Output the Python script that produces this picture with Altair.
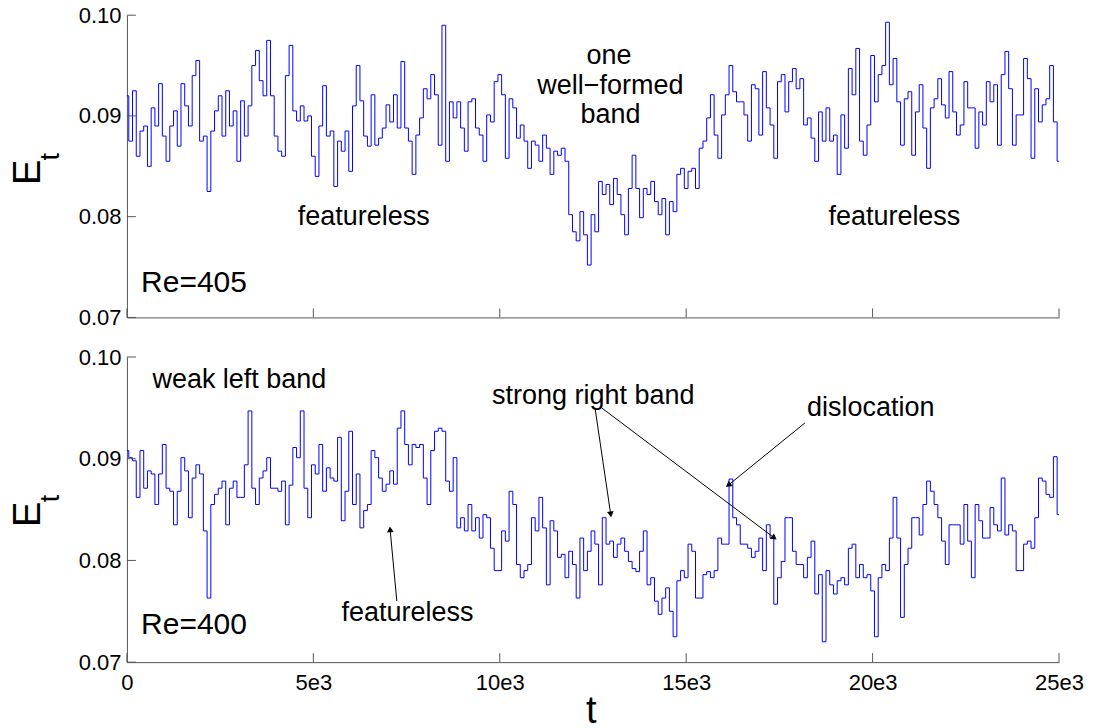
import math
import altair as alt
import pandas as pd

# ---------------- data ----------------
T_STEP = 100  # sampling interval of the traces in t

E405 = [
    0.0920, 0.0875, 0.0925, 0.0860, 0.0885, 0.0890, 0.0850, 0.0908, 0.0890, 0.0932,
    0.0880, 0.0855, 0.0890, 0.0905, 0.0870, 0.0932, 0.0910, 0.0890, 0.0940, 0.0955,
    0.0875, 0.0880, 0.0825, 0.0885, 0.0905, 0.0920, 0.0880, 0.0925, 0.0890, 0.0905,
    0.0855, 0.0915, 0.0880, 0.0910, 0.0950, 0.0965, 0.0935, 0.0920, 0.0975, 0.0920,
    0.0880, 0.0865, 0.0860, 0.0940, 0.0970, 0.0905, 0.0895, 0.0910, 0.0895, 0.0900,
    0.0860, 0.0840, 0.0890, 0.0930, 0.0880, 0.0885, 0.0830, 0.0875, 0.0865, 0.0885,
    0.0845, 0.0910, 0.0950, 0.0915, 0.0880, 0.0870, 0.0921, 0.0871, 0.0878, 0.0888,
    0.0911, 0.0894, 0.0921, 0.0888, 0.0954, 0.0888, 0.0875, 0.0842, 0.0881, 0.0898,
    0.0927, 0.0917, 0.0941, 0.0921, 0.0871, 0.0990, 0.0855, 0.0914, 0.0898, 0.0914,
    0.0888, 0.0865, 0.0914, 0.0917, 0.0888, 0.0881, 0.0855, 0.0901, 0.0894, 0.0934,
    0.0941, 0.0921, 0.0858, 0.0917, 0.0908, 0.0878, 0.0891, 0.0875, 0.0848, 0.0875,
    0.0871, 0.0855, 0.0881, 0.0868, 0.0842, 0.0865, 0.0861, 0.0868, 0.0855, 0.0802,
    0.0785, 0.0776, 0.0805, 0.0782, 0.0752, 0.0802, 0.0785, 0.0835, 0.0822, 0.0832,
    0.0812, 0.0838, 0.0822, 0.0802, 0.0782, 0.0828, 0.0861, 0.0828, 0.0799, 0.0828,
    0.0822, 0.0835, 0.0815, 0.0802, 0.0818, 0.0782, 0.0815, 0.0805, 0.0842, 0.0848,
    0.0828, 0.0845, 0.0848, 0.0828, 0.0868, 0.0875, 0.0898, 0.0921, 0.0881, 0.0858,
    0.0901, 0.0921, 0.0950, 0.0924, 0.0914, 0.0914, 0.0901, 0.0875, 0.0931, 0.0927,
    0.0881, 0.0944, 0.0908, 0.0891, 0.0858, 0.0934, 0.0941, 0.0904, 0.0934, 0.0947,
    0.0927, 0.0937, 0.0891, 0.0898, 0.0878, 0.0855, 0.0904, 0.0875, 0.0908, 0.0875,
    0.0881, 0.0842, 0.0901, 0.0868, 0.0947, 0.0921, 0.0967, 0.0875, 0.0861, 0.0891,
    0.0960, 0.0914, 0.0941, 0.0950, 0.0993, 0.0931, 0.0957, 0.0914, 0.0871, 0.0917,
    0.0924, 0.0861, 0.0904, 0.0931, 0.0888, 0.0848, 0.0908, 0.0917, 0.0937, 0.0911,
    0.0898, 0.0944, 0.0904, 0.0881, 0.0891, 0.0934, 0.0908, 0.0908, 0.0868, 0.0904,
    0.0891, 0.0934, 0.0914, 0.0931, 0.0871, 0.0941, 0.0964, 0.0927, 0.0871, 0.0901,
    0.0901, 0.0957, 0.0937, 0.0858, 0.0927, 0.0894, 0.0911, 0.0917, 0.0950, 0.0894,
    0.0855,
]

E400 = [
    0.0908, 0.0901, 0.0898, 0.0862, 0.0908, 0.0871, 0.0888, 0.0885, 0.0855, 0.0885,
    0.0914, 0.0871, 0.0868, 0.0835, 0.0868, 0.0901, 0.0888, 0.0842, 0.0881, 0.0894,
    0.0885, 0.0829, 0.0763, 0.0855, 0.0865, 0.0871, 0.0878, 0.0835, 0.0871, 0.0878,
    0.0862, 0.0862, 0.0894, 0.0947, 0.0871, 0.0855, 0.0881, 0.0888, 0.0901, 0.0871,
    0.0871, 0.0868, 0.0878, 0.0835, 0.0874, 0.0911, 0.0901, 0.0947, 0.0871, 0.0842,
    0.0894, 0.0885, 0.0914, 0.0868, 0.0891, 0.0881, 0.0878, 0.0921, 0.0839, 0.0868,
    0.0927, 0.0855, 0.0885, 0.0832, 0.0849, 0.0855, 0.0908, 0.0901, 0.0881, 0.0868,
    0.0875, 0.0888, 0.0875, 0.0930, 0.0947, 0.0914, 0.0894, 0.0914, 0.0911, 0.0914,
    0.0881, 0.0855, 0.0908, 0.0927, 0.0930, 0.0927, 0.0878, 0.0868, 0.0901, 0.0832,
    0.0842, 0.0829, 0.0855, 0.0829, 0.0842, 0.0822, 0.0845, 0.0842, 0.0812, 0.0790,
    0.0790, 0.0829, 0.0819, 0.0868, 0.0855, 0.0796, 0.0783, 0.0790, 0.0796, 0.0842,
    0.0829, 0.0862, 0.0832, 0.0776, 0.0839, 0.0829, 0.0803, 0.0806, 0.0783, 0.0809,
    0.0796, 0.0763, 0.0822, 0.0790, 0.0809, 0.0829, 0.0816, 0.0776, 0.0842, 0.0816,
    0.0819, 0.0803, 0.0816, 0.0822, 0.0809, 0.0799, 0.0792, 0.0789, 0.0809, 0.0829,
    0.0776, 0.0783, 0.0760, 0.0747, 0.0763, 0.0773, 0.0750, 0.0725, 0.0780, 0.0790,
    0.0783, 0.0816, 0.0809, 0.0763, 0.0763, 0.0786, 0.0789, 0.0783, 0.0790, 0.0822,
    0.0816, 0.0816, 0.0880, 0.0842, 0.0835, 0.0816, 0.0816, 0.0812, 0.0803, 0.0809,
    0.0822, 0.0790, 0.0835, 0.0822, 0.0757, 0.0783, 0.0799, 0.0842, 0.0842, 0.0809,
    0.0796, 0.0796, 0.0783, 0.0803, 0.0819, 0.0767, 0.0786, 0.0720, 0.0790, 0.0776,
    0.0767, 0.0780, 0.0783, 0.0776, 0.0812, 0.0816, 0.0783, 0.0796, 0.0783, 0.0786,
    0.0770, 0.0725, 0.0783, 0.0796, 0.0790, 0.0822, 0.0862, 0.0822, 0.0744, 0.0796,
    0.0812, 0.0842, 0.0842, 0.0825, 0.0855, 0.0878, 0.0868, 0.0855, 0.0842, 0.0819,
    0.0796, 0.0835, 0.0835, 0.0835, 0.0816, 0.0855, 0.0819, 0.0783, 0.0855, 0.0839,
    0.0822, 0.0822, 0.0852, 0.0835, 0.0829, 0.0881, 0.0825, 0.0835, 0.0829, 0.0790,
    0.0790, 0.0816, 0.0819, 0.0812, 0.0842, 0.0881, 0.0878, 0.0865, 0.0862, 0.0902,
    0.0845,
]

x_ticks = [0, 5000, 10000, 15000, 20000, 25000]
x_tick_labels = ["0", "5e3", "10e3", "15e3", "20e3", "25e3"]
y_ticks = [0.07, 0.08, 0.09, 0.10]
y_tick_labels = ["0.07", "0.08", "0.09", "0.10"]

# annotations: text, t, E, align, size
top_notes_text = ["one", "well\u2212formed", "band", "featureless", "featureless", "Re=405"]
top_notes_t = [12933, 12968, 12968, 6349, 20584, 380]
top_notes_E = [0.09517, 0.09219, 0.08934, 0.0792, 0.0792, 0.07248]
top_notes_align = ["center", "center", "center", "center", "center", "left"]
top_notes_size = [27, 27, 27, 27, 27, 30]

bot_notes_text = ["weak left band", "strong right band", "dislocation", "featureless", "Re=400"]
bot_notes_t = [3016, 12509, 19949, 7523, 380]
bot_notes_E = [0.09695, 0.09535, 0.09418, 0.07404, 0.07273]
bot_notes_align = ["center", "center", "center", "center", "left"]
bot_notes_size = [27, 27, 27, 27, 30]

# arrows (bottom panel): start -> end (head at end)
arrow_t1 = [7239, 12555, 12735, 18185]
arrow_E1 = [0.07600, 0.09499, 0.09499, 0.09352]
arrow_t2 = [7059, 12976, 17362, 16129]
arrow_E2 = [0.08305, 0.08452, 0.08222, 0.08740]

# ---------------- layout ----------------
W = 932.6
H1 = 302.4
H2 = 305.3
PAD_L, PAD_T, PAD_R, PAD_B = 126.7, 14.3, 33.7, 67.0
FONT = "Liberation Sans"
AXC = "#555555"
TICK = 9

xs = alt.Scale(domain=[0, 25000], nice=False, zero=False)
ys = alt.Scale(domain=[0.07, 0.10], nice=False, zero=False)

label_expr = " : ".join(
    [f"datum.value == {v} ? '{s}'" for v, s in zip(x_ticks, x_tick_labels)]
) + " : ''"
y_label_expr = " : ".join(
    [f"abs(datum.value - {v}) < 0.000001 ? '{s}'" for v, s in zip(y_ticks, y_tick_labels)]
) + " : ''"


def frame_rule(yv):
    # white (invisible) line that fixes the outer extent of the figure
    return alt.Chart(pd.DataFrame({"k": [0]})).mark_rule(
        color="white", strokeWidth=1
    ).encode(
        x=alt.value(-PAD_L + 0.5), x2=alt.value(W + PAD_R - 0.5),
        y=alt.value(yv),
    )


def panel(values, H, notes, show_x_labels, arrows=None, frame_y=None):
    df = pd.DataFrame({"t": [i * T_STEP for i in range(len(values))], "E": values})
    xaxis = alt.Axis(
        values=x_ticks, labels=show_x_labels, labelExpr=label_expr, ticks=False,
        labelPadding=10, labelFontSize=22, labelFont=FONT, labelColor="black",
        domainColor=AXC, grid=False, labelFlush=False, labelOverlap=False,
        title="t" if show_x_labels else None,
        titleFont=FONT, titleFontSize=38, titleFontWeight="normal",
        titleColor="black", titleBaseline="alphabetic", titleY=60, titleX=464,
    )
    yaxis = alt.Axis(
        values=y_ticks, labelExpr=y_label_expr, ticks=False, labelPadding=6,
        labelFontSize=22, labelFont=FONT, labelColor="black", labelOverlap=False,
        labelFlush=False, domainColor=AXC, grid=False, title=None,
    )
    line = alt.Chart(df).mark_line(
        color="#0000ff", strokeWidth=1, interpolate="step"
    ).encode(
        x=alt.X("t:Q", scale=xs, axis=xaxis),
        y=alt.Y("E:Q", scale=ys, axis=yaxis),
    )
    xt = alt.Chart(pd.DataFrame({"t": x_ticks})).mark_rule(
        color=AXC, strokeWidth=1
    ).encode(
        x=alt.X("t:Q", scale=xs, axis=None),
        y=alt.value(H), y2=alt.value(H - TICK),
    )
    yt = alt.Chart(pd.DataFrame({"E": y_ticks})).mark_rule(
        color=AXC, strokeWidth=1
    ).encode(
        y=alt.Y("E:Q", scale=ys, axis=None),
        x=alt.value(0), x2=alt.value(TICK),
    )
    ndf = pd.DataFrame({
        "s": notes[0], "t": notes[1], "E": notes[2],
        "a": notes[3], "fs": notes[4],
    })
    layers = [frame_rule(frame_y), line, xt, yt]
    for align in ["center", "left"]:
        sub = ndf[ndf["a"] == align]
        for fs in sorted(set(sub["fs"])):
            sdf = sub[sub["fs"] == fs]
            layers.append(
                alt.Chart(sdf).mark_text(
                    align=align, baseline="alphabetic", font=FONT,
                    fontSize=int(fs), color="black",
                ).encode(
                    x=alt.X("t:Q", scale=xs, axis=None),
                    y=alt.Y("E:Q", scale=ys, axis=None),
                    text="s:N",
                )
            )
    # y label "E" with subscript "t"
    layers.append(
        alt.Chart(pd.DataFrame({"s": ["E"]})).mark_text(
            angle=270, align="left", baseline="alphabetic", font=FONT,
            fontSize=38, color="black",
        ).encode(x=alt.value(-87.4), y=alt.value(170.0), text="s:N")
    )
    layers.append(
        alt.Chart(pd.DataFrame({"s": ["t"]})).mark_text(
            angle=270, align="left", baseline="alphabetic", font=FONT,
            fontSize=27, color="black",
        ).encode(x=alt.value(-68.4), y=alt.value(145.3), text="s:N")
    )
    if arrows is not None:
        t1, e1, t2, e2 = arrows
        angs = []
        for a, b, c, d in zip(t1, e1, t2, e2):
            dx = (c - a) * W / 25000.0
            dy = -(d - b) * H / 0.03
            angs.append(math.degrees(math.atan2(dx, -dy)) % 360)
        adf = pd.DataFrame({"t": t1, "E": e1, "t2": t2, "E2": e2, "ang": angs})
        layers.append(
            alt.Chart(adf).mark_rule(color="black", strokeWidth=1).encode(
                x=alt.X("t:Q", scale=xs, axis=None),
                y=alt.Y("E:Q", scale=ys, axis=None),
                x2="t2:Q", y2="E2:Q",
            )
        )
        layers.append(
            alt.Chart(adf).mark_point(
                shape="triangle-up", filled=True, color="black", size=45, opacity=1,
            ).encode(
                x=alt.X("t2:Q", scale=xs, axis=None),
                y=alt.Y("E2:Q", scale=ys, axis=None),
                angle=alt.Angle("ang:Q", scale=None),
            )
        )
    return alt.layer(*layers).resolve_axis(
        x="independent", y="independent"
    ).properties(width=W, height=H)


top = panel(
    E405, H1,
    (top_notes_text, top_notes_t, top_notes_E, top_notes_align, top_notes_size),
    False, frame_y=-PAD_T + 0.5,
)
bottom = panel(
    E400, H2,
    (bot_notes_text, bot_notes_t, bot_notes_E, bot_notes_align, bot_notes_size),
    True,
    arrows=(arrow_t1, arrow_E1, arrow_t2, arrow_E2),
    frame_y=H2 + PAD_B - 0.5,
)

chart = alt.vconcat(top, bottom, spacing=39, bounds="flush").properties(
    padding=0,
).configure_view(stroke=None)

chart.save("out.html", embed_options={"renderer": "svg", "actions": False})
